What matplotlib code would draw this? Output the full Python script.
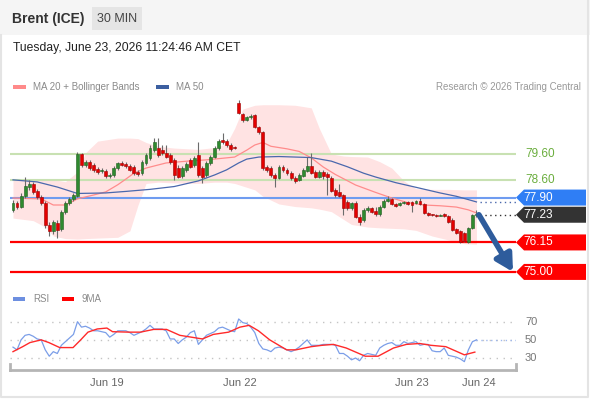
import numpy as np
import matplotlib.pyplot as plt
from matplotlib.patches import Rectangle, Polygon

plt.rcParams['font.family'] = ['Liberation Sans', 'DejaVu Sans']

# ---- data (Brent, 30 min candles) ----
opens = [77.42, 77.69, 77.53, 77.96, 78.31, 78.43, 78.16, 77.92, 77.69, 76.83,
         76.60, 76.91, 76.67, 77.34, 77.69, 77.85, 77.96, 79.60, 79.17, 79.29,
         79.17, 79.02, 78.94, 78.94, 78.74, 78.78, 79.05, 79.25, 79.21, 79.13,
         79.09, 78.90, 78.86, 79.25, 79.44, 79.76, 79.83, 79.76, 79.64, 79.56,
         79.37, 79.05, 78.74, 78.98, 79.37, 79.17, 79.56, 79.05, 78.78, 79.25,
         79.48, 79.83, 80.15, 80.11, 79.95, 79.87, 81.59, 81.16, 80.93, 81.04,
         81.12, 80.65, 80.46, 79.09, 79.05, 78.78, 78.66, 79.09, 78.98, 78.86,
         78.66, 78.59, 78.74, 78.94, 79.13, 78.90, 78.70, 78.90, 78.82, 78.66,
         78.20, 78.12, 78.00, 77.73, 77.49, 77.69, 77.14, 77.03, 77.42, 77.49,
         77.38, 77.26, 77.53, 77.77, 77.85, 77.65, 77.61, 77.69, 77.73, 77.73,
         77.69, 77.77, 77.65, 77.30, 77.22, 77.22, 77.20, 77.26, 77.18, 77.03,
         76.67, 76.60, 76.52, 76.17, 76.71, 77.22]
closes = [77.69, 77.53, 77.96, 78.35, 78.43, 78.12, 77.92, 77.69, 76.83, 76.60,
          76.95, 76.64, 77.34, 77.69, 77.85, 78.00, 79.60, 79.17, 79.29, 79.05,
          78.98, 78.90, 78.98, 78.74, 78.78, 79.05, 79.25, 79.17, 79.13, 78.98,
          78.86, 78.82, 79.29, 79.56, 79.83, 80.07, 79.56, 79.64, 79.48, 79.29,
          78.78, 78.70, 79.05, 79.21, 79.09, 79.44, 78.78, 78.70, 79.25, 79.48,
          79.83, 80.11, 80.07, 79.95, 79.79, 79.83, 81.20, 80.93, 81.04, 81.08,
          80.65, 80.46, 79.05, 78.98, 78.78, 78.66, 79.09, 78.98, 78.86, 78.66,
          78.55, 78.78, 78.98, 79.13, 78.86, 78.70, 78.90, 78.74, 78.70, 78.16,
          78.00, 77.96, 77.49, 77.49, 77.69, 77.14, 76.95, 77.42, 77.49, 77.34,
          77.26, 77.53, 77.77, 77.85, 77.65, 77.57, 77.69, 77.73, 77.65, 77.61,
          77.77, 77.65, 77.30, 77.22, 77.21, 77.18, 77.22, 77.18, 76.95, 76.64,
          76.52, 76.17, 76.20, 76.71, 77.22, 77.23]
highs = [77.81, 77.77, 78.08, 78.70, 78.59, 78.51, 78.24, 78.00, 77.77, 76.95,
         77.03, 77.03, 77.42, 77.77, 77.92, 78.08, 79.68, 79.64, 79.37, 79.37,
         79.25, 79.09, 79.05, 79.02, 78.86, 79.13, 79.29, 79.33, 79.29, 79.21,
         79.17, 78.98, 79.37, 79.64, 79.95, 80.22, 80.22, 79.95, 79.95, 79.64,
         79.44, 79.17, 79.13, 79.29, 79.44, 79.52, 80.07, 79.13, 79.33, 79.56,
         79.91, 80.18, 80.42, 80.18, 80.03, 79.91, 81.71, 81.20, 81.08, 81.16,
         81.16, 80.69, 80.50, 79.17, 79.13, 78.86, 79.17, 79.17, 79.05, 78.94,
         78.74, 78.86, 79.05, 79.48, 79.64, 78.98, 78.98, 78.98, 78.90, 78.74,
         78.27, 78.43, 78.04, 77.81, 77.73, 77.77, 77.26, 77.49, 77.57, 77.53,
         77.53, 77.61, 77.85, 77.96, 77.88, 77.69, 77.73, 77.77, 77.77, 77.77,
         77.81, 77.88, 77.69, 77.34, 77.26, 77.26, 77.26, 77.30, 77.22, 77.10,
         76.71, 76.64, 76.56, 76.75, 77.26, 77.42]
lows = [77.34, 77.46, 77.49, 77.88, 78.20, 78.04, 77.85, 77.61, 76.71, 76.40,
        76.48, 76.33, 76.60, 77.26, 77.61, 77.77, 77.92, 79.09, 79.09, 78.98,
        78.90, 78.82, 78.86, 78.66, 78.66, 78.70, 78.98, 79.13, 79.05, 78.94,
        78.78, 78.74, 78.78, 79.17, 79.37, 79.68, 79.48, 79.56, 79.44, 79.21,
        78.59, 78.66, 78.66, 78.90, 79.05, 79.09, 78.70, 78.47, 78.70, 79.17,
        79.44, 79.76, 79.99, 79.87, 79.72, 79.79, 81.16, 80.85, 80.89, 80.97,
        80.61, 80.38, 78.98, 78.90, 78.70, 78.31, 78.63, 78.90, 78.78, 78.59,
        78.47, 78.55, 78.70, 78.90, 78.82, 78.66, 78.66, 78.63, 78.00, 78.12,
        77.92, 77.92, 77.22, 77.42, 77.42, 77.10, 76.83, 76.95, 77.34, 77.30,
        77.18, 77.18, 77.49, 77.73, 77.61, 77.53, 77.57, 77.65, 77.61, 77.34,
        77.65, 77.61, 77.26, 77.18, 77.18, 77.14, 77.18, 77.14, 76.91, 76.60,
        76.48, 76.13, 76.17, 76.13, 76.67, 77.14]

# bollinger band (20) read at these candle positions
band_idx = [0, 5, 8, 10, 13, 16, 18, 21, 26, 29, 31, 33, 36, 40, 46, 50, 53, 55, 57, 60,
            62, 66, 70, 74, 76, 79, 82, 84, 88, 91, 94, 97, 100, 104, 108, 112, 115]
band_up = [78.59, 78.55, 78.62, 78.60, 78.52, 78.90, 79.65, 80.10, 80.22, 80.22, 80.20, 80.05,
           79.90, 79.83, 79.78, 79.85, 80.00, 80.60, 81.35, 81.50, 81.52, 81.52, 81.50, 81.40,
           80.60, 79.60, 79.52, 79.50, 79.48, 79.30, 79.05, 78.55, 78.25, 78.22, 78.22, 78.20, 78.20]
band_lo = [77.10, 77.00, 76.75, 76.40, 76.30, 76.28, 76.30, 76.32, 76.35, 76.60, 77.60, 78.45,
           78.50, 78.47, 78.45, 78.50, 78.50, 78.45, 78.35, 78.20, 77.95, 77.65, 77.55, 77.50,
           77.45, 77.35, 77.05, 76.85, 76.75, 76.72, 76.70, 76.68, 76.62, 76.40, 76.25, 76.10, 76.08]

ma20_idx = [0, 7, 10, 13, 16, 20, 23, 26, 28, 30, 33, 38, 44, 48, 55, 58, 60, 62, 64, 68,
            71, 74, 77, 80, 85, 90, 94, 98, 102, 106, 110, 113, 115]
ma20 = [77.88, 77.85, 77.61, 77.61, 77.85, 78.00, 78.12, 78.40, 78.62, 78.85, 79.05, 79.25,
        79.33, 79.37, 79.48, 79.75, 79.95, 80.05, 79.90, 79.80, 79.70, 79.45, 79.09, 78.80,
        78.39, 78.10, 77.88, 77.70, 77.61, 77.58, 77.53, 77.42, 77.30]

ma50_idx = [0, 6, 11, 16, 23, 28, 34, 40, 46, 50, 53, 56, 58, 61, 66, 70, 74, 79, 83, 87,
            90, 95, 100, 106, 110, 113, 115]
ma50 = [78.59, 78.51, 78.31, 78.06, 78.08, 78.14, 78.22, 78.33, 78.55, 78.78, 78.98, 79.25,
        79.40, 79.48, 79.50, 79.48, 79.46, 79.32, 79.10, 78.85, 78.70, 78.48, 78.30, 78.08,
        77.95, 77.82, 77.73]

resistances = [79.60, 78.60]
pivot = 77.90
supports = [76.15, 75.00]
last_price = 77.23

rsi = [42, 39, 50, 55, 56, 54, 51, 50, 39, 32, 37, 35, 44, 48, 52, 56, 70, 64, 65, 63,
       60, 60, 59, 58, 53, 56, 60, 60, 60, 58, 55, 57, 59, 62, 66, 62, 62, 62, 60, 51,
       51, 46, 50, 53, 58, 60, 45, 50, 55, 57, 59, 63, 64, 62, 60, 59, 73, 69, 68, 64,
       58, 46, 40, 39, 37, 41, 42, 41, 39, 37, 39, 42, 46, 50, 44, 44, 44, 45, 45, 45,
       44, 35, 35, 32, 28, 30, 27, 33, 35, 34, 33, 41, 44, 46, 47, 44, 44, 48, 46, 47,
       48, 44, 45, 45, 38, 37, 37, 41, 33, 32, 31, 29, 26, 39, 48, 50]
ma9_idx = [0, 2.4, 4.2, 7, 8.9, 11.6, 14.9, 16.8, 18.6, 20.9, 23.3, 24.7, 28.8, 31.6, 34.9,
           38.1, 41.4, 44.2, 47, 49.7, 53.5, 56.3, 58.6, 60.9, 63.7, 67.9, 70.2, 74, 76.7,
           79.5, 82.7, 87.4, 90.6, 94.4, 97.6, 100.9, 103.7, 107.4, 112, 114.6]
ma9 = [37, 42.5, 47, 50, 47, 41.5, 41.5, 50, 58.5, 62, 63, 59, 58.5, 58.5, 61.5, 61.5, 55,
       53, 51, 56, 58.5, 64, 66, 60, 50, 39, 39, 42.5, 44, 45, 41, 32, 32, 41, 45, 46, 44,
       42.5, 33.5, 36.5]
rsi_levels = [70, 50, 30]

date_ticks = [23.3, 56.3, 99, 115.6]
date_labels = ['Jun 19', 'Jun 22', 'Jun 23', 'Jun 24']

# ---- layout (pixels) ----
W, H = 590, 400
X0, X1 = 10, 516


def rect(x0, y0, x1, y1):
    return [x0 / W, 1 - y1 / H, (x1 - x0) / W, (y1 - y0) / H]


def px_i(x):
    # pixel column -> candle index
    return (x - 13) / 4.03


fig = plt.figure(figsize=(W / 100, H / 100), dpi=100)

bg = fig.add_axes([0, 0, 1, 1])
bg.set_xlim(0, W)
bg.set_ylim(H, 0)
bg.axis('off')
bg.add_patch(Rectangle((0, 0), W, 35, color='#f5f5f5', lw=0))
bg.add_patch(Rectangle((92, 7), 50, 23, color='#e5e5e5', lw=0))
bg.text(12, 19, 'Brent (ICE)', fontsize=10, fontweight='bold', color='#333333', va='center')
bg.text(117, 19, '30 MIN', fontsize=9, color='#444444', ha='center', va='center')
bg.text(13, 48, 'Tuesday, June 23, 2026 11:24:46 AM CET', fontsize=8.7, color='#222222', va='center')

bg.add_patch(Rectangle((13, 84.5), 13, 4, color='#ff8a8a', lw=0))
bg.text(33, 86.5, 'MA 20 + Bollinger Bands', fontsize=7, color='#8a8a8a', va='center')
bg.add_patch(Rectangle((156, 84.5), 13, 4, color='#3c5fa0', lw=0))
bg.text(176, 86.5, 'MA 50', fontsize=7, color='#8a8a8a', va='center')
bg.text(581, 86.5, 'Research \u00a9 2026 Trading Central', fontsize=7, color='#999999',
        ha='right', va='center')

bg.add_patch(Rectangle((13, 297), 12, 4, color='#6d8fe0', lw=0))
bg.text(33, 299, 'RSI', fontsize=7, color='#8a8a8a', va='center')
bg.add_patch(Rectangle((62, 297), 12, 4, color='#ff0000', lw=0))
bg.text(82, 299, '9MA', fontsize=7, color='#8a8a8a', va='center')
bg.plot([1, 1, 588, 588], [35, 397, 397, 0], color='#e4e4e4', lw=1.5)

# ---- price panel ----
xl = (px_i(X0), px_i(X1))
ax = fig.add_axes(rect(X0, 95, X1, 285), facecolor='none')
ax.set_xlim(*xl)
ax.set_ylim(74.49, 81.90)
ax.axis('off')

ax.fill_between(band_idx, band_lo, band_up, color='#ffe3e3', lw=0, zorder=1)

for lv in resistances:
    ax.axhline(lv, color='#c8e1b2', lw=1.5, zorder=1.5)
    ax.text(px_i(525), lv, f'{lv:.2f}', color='#6aad3d', fontsize=8.5, va='center')
ax.axhline(pivot, color='#6f9cf0', lw=1.5, zorder=1.5)
for lv in supports:
    ax.axhline(lv, color='#ff0000', lw=1.6, zorder=1.5)

ax.plot(ma20_idx, ma20, color='#ff8c8c', lw=0.9, zorder=2)
ax.plot(ma50_idx, ma50, color='#4a68ad', lw=0.9, zorder=2)

o, h, l, c = (np.array(v) for v in (opens, highs, lows, closes))
idx = np.arange(len(c))
up = c >= o
ax.vlines(idx, l, h, color='#6b6b6b', lw=0.8, zorder=3)
lo = np.minimum(o, c)
bh = np.maximum(np.abs(c - o), 0.03)
ax.bar(idx[up], bh[up], bottom=lo[up], width=0.72, color='#2f8a2f',
       edgecolor='#1f5f1f', lw=0.4, zorder=4)
ax.bar(idx[~up], bh[~up], bottom=lo[~up], width=0.72, color='#e40000',
       edgecolor='#9c0000', lw=0.4, zorder=4)

# dotted extensions of last close and MA 50
ax.plot([idx[-1] + 0.8, xl[1]], [last_price, last_price], color='#333333', lw=1,
        ls=(0, (1, 2.5)), clip_on=False)
ax.plot([idx[-1] + 0.8, xl[1]], [ma50[-1], ma50[-1]], color='#4a68ad', lw=1,
        ls=(0, (1, 2.5)), clip_on=False)

# price tags
hh = 8 / 25.65
tip, notch, end = px_i(516), px_i(524), px_i(586)


def tag(price, color):
    pts = [(tip, price), (notch, price + hh), (end, price + hh), (end, price - hh), (notch, price - hh)]
    ax.add_patch(Polygon(pts, closed=True, color=color, lw=0, clip_on=False, zorder=5))
    ax.text(px_i(523), price, f'{price:.2f}', color='white', fontsize=8.5, va='center', zorder=6)


tag(pivot, '#2f7ef5')
tag(last_price, '#333333')
for lv in supports:
    tag(lv, '#ff0000')

ax.annotate('', xy=(px_i(513), supports[1]), xytext=(idx[-1] + 0.6, last_price),
            arrowprops=dict(arrowstyle='-|>,head_width=0.55,head_length=1.0',
                            color='#2e5c9c', lw=4, shrinkA=0, shrinkB=0),
            annotation_clip=False, zorder=6)

# ---- RSI panel ----
rx = fig.add_axes(rect(X0, 305, X1, 370), facecolor='none')
rx.set_xlim(*xl)
rx.set_ylim(16.8, 88.4)
for s in ['top', 'left', 'right']:
    rx.spines[s].set_visible(False)
rx.spines['bottom'].set_color('#b5b5b5')
rx.spines['bottom'].set_linewidth(2)
rx.set_yticks([])
rx.set_xticks(date_ticks)
rx.set_xticklabels(date_labels)
rx.tick_params(axis='x', length=0, labelsize=8, labelcolor='#666666', pad=5.5)
rx.axvline(xl[0], ymax=0.1, color='#b5b5b5', lw=2, clip_on=False)
rx.axvline(xl[1], ymax=0.1, color='#b5b5b5', lw=2, clip_on=False)

for lv in rsi_levels:
    rx.axhline(lv, color='#c4c4c4', lw=1, ls=(0, (1, 4)))
    rx.text(px_i(525), lv, str(lv), color='#777777', fontsize=8, va='center')

rx.plot(np.arange(len(rsi)), rsi, color='#7b9ee8', lw=0.9)
rx.plot(ma9_idx, ma9, color='#ff2a2a', lw=1)
rx.plot([len(rsi) - 1, xl[1]], [rsi[-1], rsi[-1]], color='#9fb8ee', lw=1, ls=(0, (1, 2.5)))

fig.savefig('out.png', dpi=100)
